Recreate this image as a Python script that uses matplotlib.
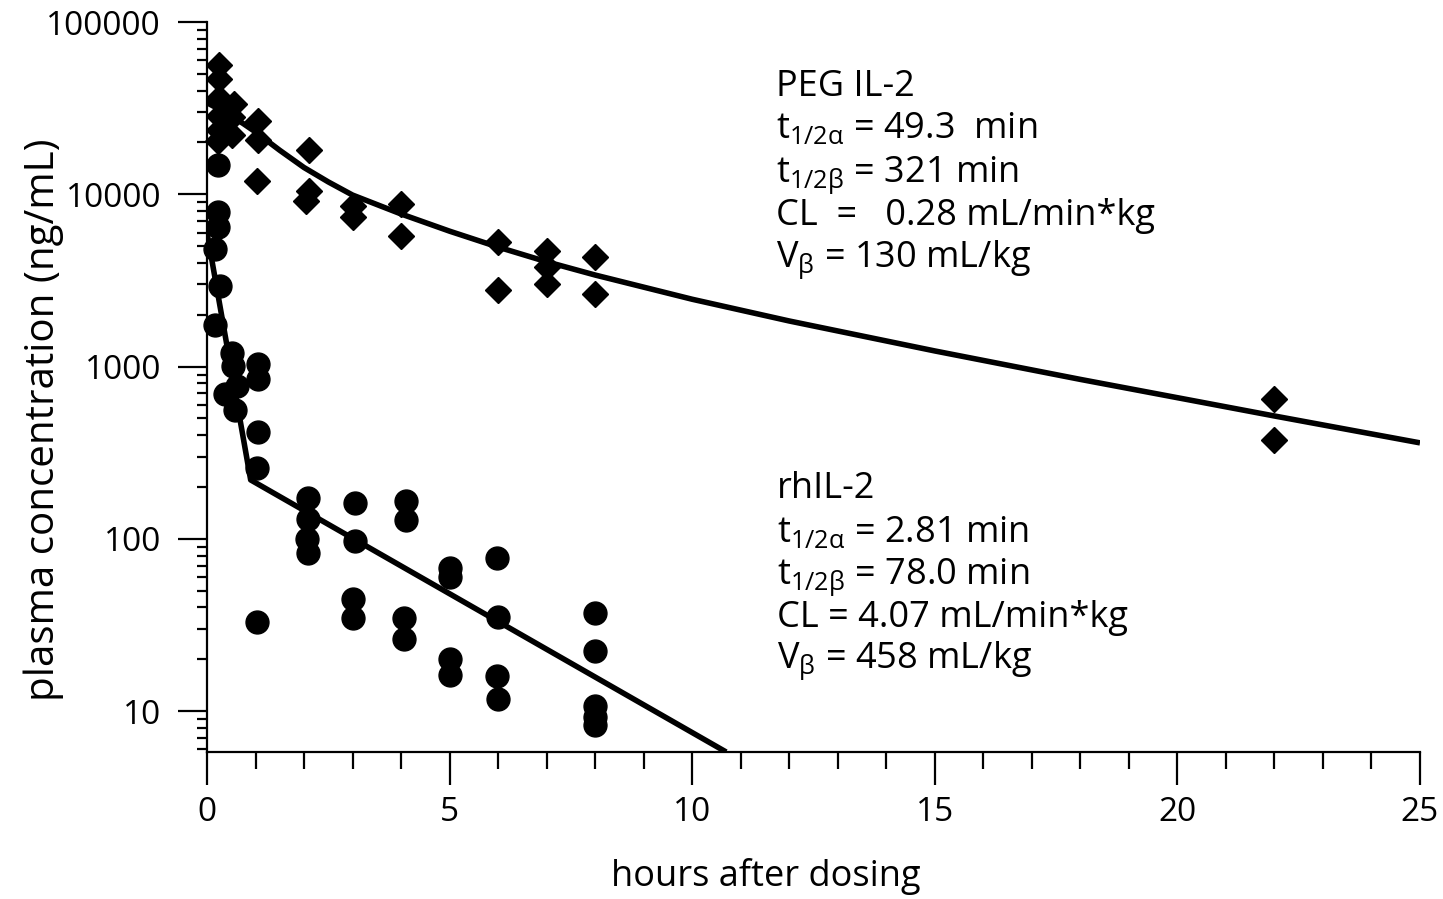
import matplotlib
matplotlib.use("Agg")
import matplotlib.pyplot as plt
from matplotlib.ticker import FixedLocator, MultipleLocator, LogLocator, NullFormatter

plt.rcParams['font.family'] = ['Open Sans', 'DejaVu Sans']
plt.rcParams['mathtext.fontset'] = 'custom'
plt.rcParams['mathtext.rm'] = 'Open Sans'
plt.rcParams['mathtext.it'] = 'Open Sans'

# ---- data ----
peg_time = [0.25, 0.25, 0.24, 0.25, 0.25, 0.23,
            0.55, 0.52, 0.52,
            1.05, 1.05, 1.03,
            2.1, 2.1, 2.05,
            3.0, 3.0,
            4.0, 4.0,
            6.0, 6.0,
            7.0, 7.0, 7.0,
            8.0, 8.0,
            22.0, 22.0]
peg_conc = [56000, 47000, 36000, 28500, 23500, 20500,
            33500, 28000, 22000,
            26500, 20800, 12000,
            18000, 10400, 9100,
            8600, 7400,
            8800, 5700,
            5300, 2800,
            4700, 3800, 3000,
            4300, 2650,
            650, 375]

rh_time = [0.22, 0.23, 0.22, 0.17, 0.27, 0.17,
           0.52, 0.54, 0.62, 0.37, 0.58,
           1.05, 1.05, 1.05, 1.03, 1.03,
           2.08, 2.08, 2.06, 2.08,
           3.05, 3.05, 3.0, 3.0,
           4.1, 4.1, 4.05, 4.05,
           5.0, 5.0, 5.0, 5.0,
           5.98, 6.0, 5.98, 6.0,
           8.0, 8.0, 8.0, 8.0, 8.0]
rh_conc = [14700, 7900, 6500, 4800, 2950, 1740,
           1200, 1010, 768, 689, 562,
           1035, 845, 417, 259, 33,
           172, 131, 100, 82.5,
           161, 97.5, 44.7, 34.6,
           167, 128, 34.6, 26.4,
           68, 60, 20.2, 16.3,
           77.4, 35.0, 16.1, 11.8,
           37.3, 22.4, 10.7, 9.3, 8.3]

peg_fit_time = [0, 0.25, 0.5, 0.75, 1, 1.5, 2, 2.5, 3, 4, 5, 6, 7, 8, 10, 12, 15, 18, 22, 25]
peg_fit_conc = [34000, 31200, 28500, 25700, 23000, 18000, 14300, 11800, 9900, 7690, 6110,
                4940, 4060, 3400, 2460, 1840, 1233, 843, 517, 361]

rh_fit_time = [0, 0.9, 10.7]
rh_fit_conc = [6000, 220, 5.8]

x_major = [0, 5, 10, 15, 20, 25]
y_major = [10, 100, 1000, 10000, 100000]
y_labels = ['10', '100', '1000', '10000', '100000']

peg_text = ['PEG IL-2',
            r't$\mathregular{_{1/2α}}$ = 49.3  min',
            r't$\mathregular{_{1/2β}}$ = 321 min',
            'CL  =   0.28 mL/min*kg',
            r'V$\mathregular{_{β}}$ = 130 mL/kg']
rh_text = ['rhIL-2',
           r't$\mathregular{_{1/2α}}$ = 2.81 min',
           r't$\mathregular{_{1/2β}}$ = 78.0 min',
           'CL = 4.07 mL/min*kg',
           r'V$\mathregular{_{β}}$ = 458 mL/kg']

# ---- figure ----
W, H = 1443, 899
fig = plt.figure(figsize=(W / 100, H / 100), dpi=100)
ax = fig.add_axes([207 / W, 1 - 752 / H, (1420 - 207) / W, (752 - 22) / H])

ax.set_yscale('log')
ax.set_xlim(0, 25)
ax.set_ylim(5.8, 100000)

ax.plot(peg_fit_time, peg_fit_conc, color='black', lw=4, solid_capstyle='butt')
ax.plot(rh_fit_time, rh_fit_conc, color='black', lw=4, solid_capstyle='butt')
ax.plot(peg_time, peg_conc, linestyle='none', marker='D', ms=13.5, color='black', clip_on=False)
ax.plot(rh_time, rh_conc, linestyle='none', marker='o', ms=16.5, color='black', clip_on=False)

for s in ['top', 'right']:
    ax.spines[s].set_visible(False)
for s in ['left', 'bottom']:
    ax.spines[s].set_linewidth(1.6)

ax.xaxis.set_major_locator(FixedLocator(x_major))
ax.xaxis.set_minor_locator(MultipleLocator(1))
ax.yaxis.set_major_locator(FixedLocator(y_major))
ax.set_yticklabels(y_labels)
ax.yaxis.set_minor_locator(LogLocator(base=10, subs=range(2, 10)))
ax.yaxis.set_minor_formatter(NullFormatter())

ax.tick_params(axis='both', which='major', direction='out', width=1.6, labelsize=24)
ax.tick_params(axis='x', which='major', length=24, pad=8)
ax.tick_params(axis='x', which='minor', direction='out', length=12, width=1.6)
ax.tick_params(axis='y', which='major', length=21, pad=12)
ax.tick_params(axis='y', which='minor', direction='out', length=7, width=1.6)

ax.set_xlabel('hours after dosing', fontsize=26)
ax.xaxis.set_label_coords((766 - 207) / 1213, (752 - 858) / 730)
ax.set_ylabel('plasma concentration (ng/mL)', fontsize=29)
ax.yaxis.set_label_coords((64 - 207) / 1213, (752 - 420) / 730)

peg_base = [96, 138, 182, 225, 267]
rh_base = [498, 542, 584, 627, 668]
for txt, yb in zip(peg_text, peg_base):
    fig.text(776 / W, 1 - yb / H, txt, fontsize=26, va='baseline', ha='left')
for txt, yb in zip(rh_text, rh_base):
    fig.text(777 / W, 1 - yb / H, txt, fontsize=26, va='baseline', ha='left')

fig.savefig('out.png', dpi=100)
